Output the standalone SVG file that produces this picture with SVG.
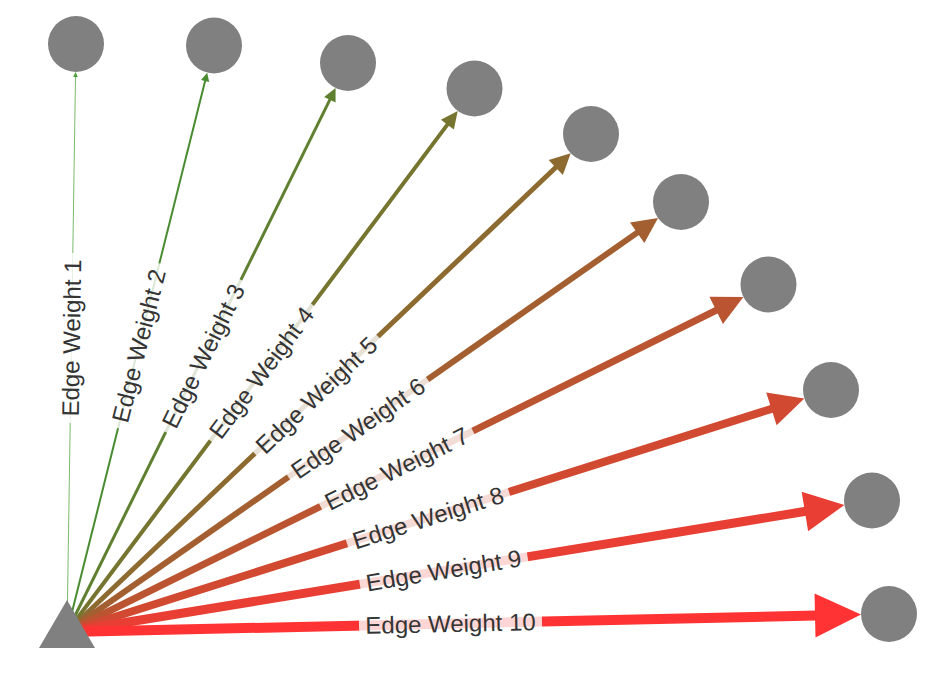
<svg xmlns="http://www.w3.org/2000/svg" width="950" height="686" viewBox="0 0 950 686">
<style>
.node{fill:#808080}
.lbl text{font-family:"Liberation Sans",Arial,sans-serif;font-size:24px;fill:#343434;text-anchor:middle}
.lbl rect{fill:#ffffff;fill-opacity:0.8}
line{stroke-linecap:butt}
.w1{stroke:#4fa33c;fill:#4fa33c}
.w2{stroke:#498b30;fill:#498b30}
.w3{stroke:#5f8030;fill:#5f8030}
.w4{stroke:#76752f;fill:#76752f}
.w5{stroke:#8d6a30;fill:#8d6a30}
.w6{stroke:#a45f30;fill:#a45f30}
.w7{stroke:#bb5430;fill:#bb5430}
.w8{stroke:#d24932;fill:#d24932}
.w9{stroke:#e83e34;fill:#e83e34}
.w10{stroke:#ff3333;fill:#ff3333}
</style>
<rect width="950" height="686" fill="#ffffff"/>
<g id="connectors">
  <g id="edge-1" class="w1"><line x1="67" y1="632" x2="75.51" y2="76.5" stroke-width="1" stroke-opacity="0.75"/><polygon points="75.57,72.0 77.94,77.04 73.04,76.96" stroke="none"/></g>
  <g id="edge-2" class="w2"><line x1="67" y1="632" x2="205.37" y2="79.94" stroke-width="2"/><polygon points="207.19,72.66 209.20,81.93 201.06,79.89" stroke="none"/></g>
  <g id="edge-3" class="w3"><line x1="67" y1="632" x2="330.28" y2="98.87" stroke-width="3"/><polygon points="335.60,88.11 335.58,102.60 324.10,96.93" stroke="none"/></g>
  <g id="edge-4" class="w4"><line x1="67" y1="632" x2="447.98" y2="123.86" stroke-width="4"/><polygon points="457.70,110.90 453.86,129.52 440.90,119.80" stroke="none"/></g>
  <g id="edge-5" class="w5"><line x1="67" y1="632" x2="556.49" y2="166.79" stroke-width="5"/><polygon points="570.70,153.29 562.87,174.95 548.67,160.01" stroke="none"/></g>
  <g id="edge-6" class="w6"><line x1="67" y1="632" x2="638.00" y2="232.12" stroke-width="6"/><polygon points="658.06,218.06 644.35,242.93 630.01,222.45" stroke="none"/></g>
  <g id="edge-7" class="w7"><line x1="67" y1="632" x2="717.07" y2="309.98" stroke-width="7"/><polygon points="743.41,296.93 722.92,324.04 709.42,296.80" stroke="none"/></g>
  <g id="edge-8" class="w8"><line x1="67" y1="632" x2="772.37" y2="408.57" stroke-width="8"/><polygon points="804.31,398.46 776.61,425.27 766.23,392.48" stroke="none"/></g>
  <g id="edge-9" class="w9"><line x1="67" y1="632" x2="805.88" y2="511.30" stroke-width="9"/><polygon points="844.37,505.01 808.11,531.20 801.67,491.72" stroke="none"/></g>
  <g id="edge-10" class="w10"><line x1="67" y1="632" x2="816.02" y2="615.60" stroke-width="10"/><polygon points="861.01,614.61 815.50,637.61 814.54,593.62" stroke="none"/></g>
  <g id="edge-labels" class="lbl">
    <g transform="translate(71.5,338) rotate(-89.12)"><rect x="-85" y="-11" width="170" height="22"/><text dy=".35em">Edge Weight 1</text></g>
    <g transform="translate(138.7,345.8) rotate(-75.93)"><rect x="-85" y="-11" width="170" height="22"/><text dy=".35em">Edge Weight 2</text></g>
    <g transform="translate(203.3,356) rotate(-63.72)"><rect x="-85" y="-11" width="170" height="22"/><text dy=".35em">Edge Weight 3</text></g>
    <g transform="translate(261.4,372.7) rotate(-53.14)"><rect x="-85" y="-11" width="170" height="22"/><text dy=".35em">Edge Weight 4</text></g>
    <g transform="translate(316.4,395) rotate(-43.54)"><rect x="-85" y="-11" width="170" height="22"/><text dy=".35em">Edge Weight 5</text></g>
    <g transform="translate(358,428.2) rotate(-35.00)"><rect x="-85" y="-11" width="170" height="22"/><text dy=".35em">Edge Weight 6</text></g>
    <g transform="translate(396.7,468.7) rotate(-26.35)"><rect x="-85" y="-11" width="170" height="22"/><text dy=".35em">Edge Weight 7</text></g>
    <g transform="translate(428,517.7) rotate(-17.58)"><rect x="-85" y="-11" width="170" height="22"/><text dy=".35em">Edge Weight 8</text></g>
    <g transform="translate(443.7,570.5) rotate(-9.28)"><rect x="-85" y="-11" width="170" height="22"/><text dy=".35em">Edge Weight 9</text></g>
    <g transform="translate(450.5,623.6) rotate(-1.25)"><rect x="-91.5" y="-11" width="183" height="22"/><text dy=".35em">Edge Weight 10</text></g>
  </g>
</g>
<g id="nodes">
  <g id="source"><polygon class="node" points="67,600 95,648 39,648"/></g>
  <g id="n1"><circle class="node" cx="76" cy="44" r="28"/></g>
  <g id="n2"><circle class="node" cx="214" cy="45.5" r="28"/></g>
  <g id="n3"><circle class="node" cx="348" cy="63" r="28"/></g>
  <g id="n4"><circle class="node" cx="474.5" cy="88.5" r="28"/></g>
  <g id="n5"><circle class="node" cx="591" cy="134" r="28"/></g>
  <g id="n6"><circle class="node" cx="681" cy="202" r="28"/></g>
  <g id="n7"><circle class="node" cx="768.5" cy="284.5" r="28"/></g>
  <g id="n8"><circle class="node" cx="831" cy="390" r="28"/></g>
  <g id="n9"><circle class="node" cx="872" cy="500.5" r="28"/></g>
  <g id="n10"><circle class="node" cx="889" cy="614" r="28"/></g>
</g>
</svg>
